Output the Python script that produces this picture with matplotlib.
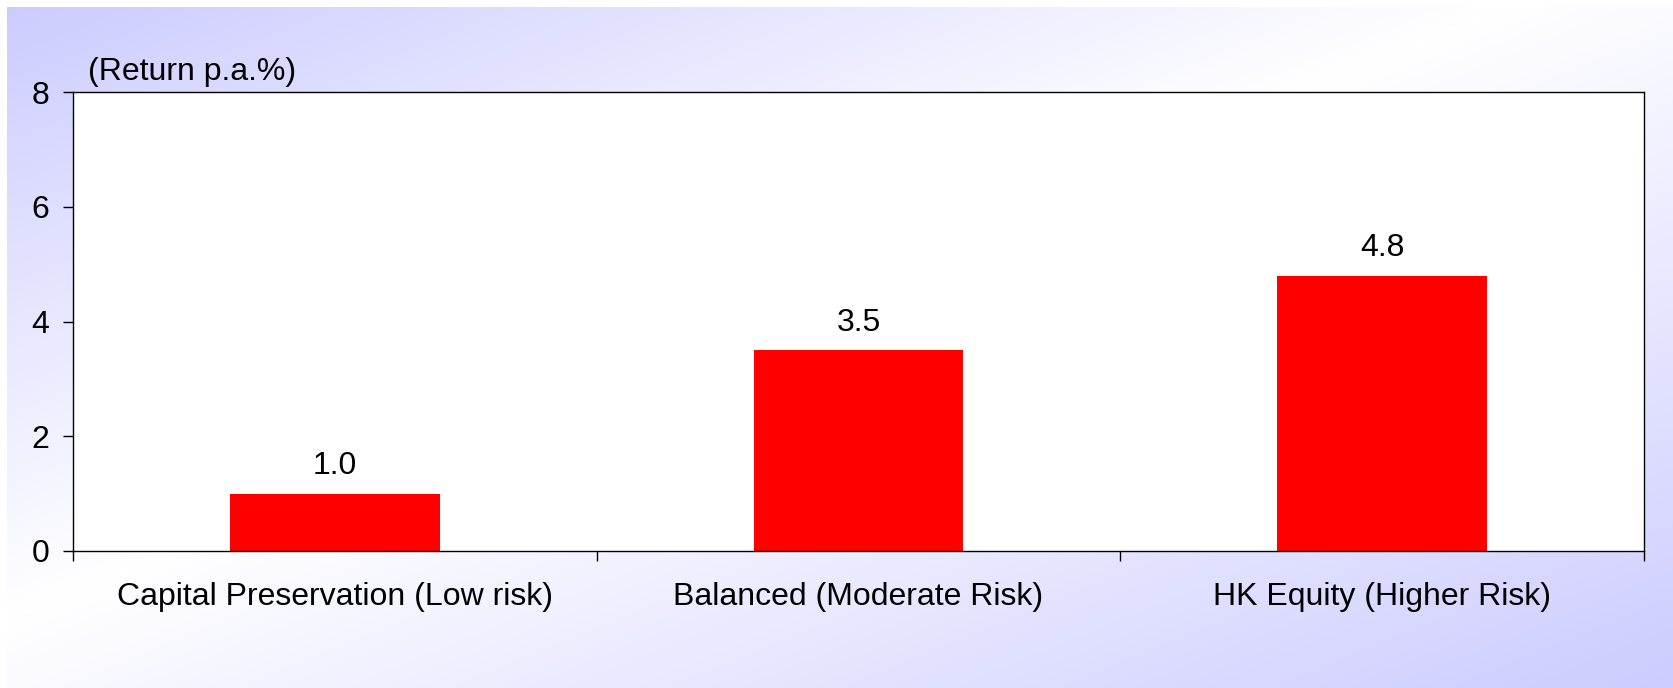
import numpy as np
import matplotlib.pyplot as plt
from matplotlib.colors import LinearSegmentedColormap

# chart data
categories = ["Capital Preservation (Low risk)", "Balanced (Moderate Risk)", "HK Equity (Higher Risk)"]
returns = [1.0, 3.5, 4.8]
y_ticks = [0, 2, 4, 6, 8]

plt.rcParams['font.family'] = ['Liberation Sans', 'DejaVu Sans']

W, H = 1673, 688
fig = plt.figure(figsize=(W / 100, H / 100), dpi=100)

# diagonal lavender-white-lavender background
bg = fig.add_axes([7 / W, 0, 1 - 7 / W, 1 - 7 / H], zorder=-10)
gx, gy = np.meshgrid(np.linspace(0, 1, 400), np.linspace(0, 1, 200))
s = gx + gy
c = 0.9
t = np.where(s < c, (c - s) / c, (s - c) / (2 - c))
cmap = LinearSegmentedColormap.from_list("bg", ["#ffffff", "#ccccff"])
bg.imshow(t, cmap=cmap, aspect='auto', extent=[0, 1, 1, 0], vmin=0, vmax=1)
bg.axis('off')

ax = fig.add_axes([73 / W, 1 - 551 / H, (1644 - 73) / W, (551 - 92) / H])
ax.set_facecolor('white')
x = np.arange(len(categories))
ax.bar(x, returns, width=0.4, color='#ff0000', zorder=2)
for xi, v in zip(x, returns):
    ax.annotate(f"{v:.1f}", (xi, v), xytext=(0, 9), textcoords='offset points',
                ha='center', va='bottom', fontsize=23)

ax.set_xlim(-0.5, len(categories) - 0.5)
ax.set_ylim(0, 8)
ax.set_yticks(y_ticks)
ax.tick_params(axis='y', direction='out', length=7, width=1, labelsize=23, pad=10)

ax.set_xticks(x)
ax.set_xticklabels(categories, fontsize=23)
ax.tick_params(axis='x', which='major', length=0, pad=22)
ax.set_xticks(np.arange(-0.5, len(categories)), minor=True)
ax.tick_params(axis='x', which='minor', direction='out', length=7, width=1)

for sp in ax.spines.values():
    sp.set_linewidth(1)
    sp.set_color('black')

fig.text(88 / W, 1 - 80 / H, "(Return p.a.%)", fontsize=23, va='baseline', ha='left')

fig.savefig("out.png", dpi=100)
